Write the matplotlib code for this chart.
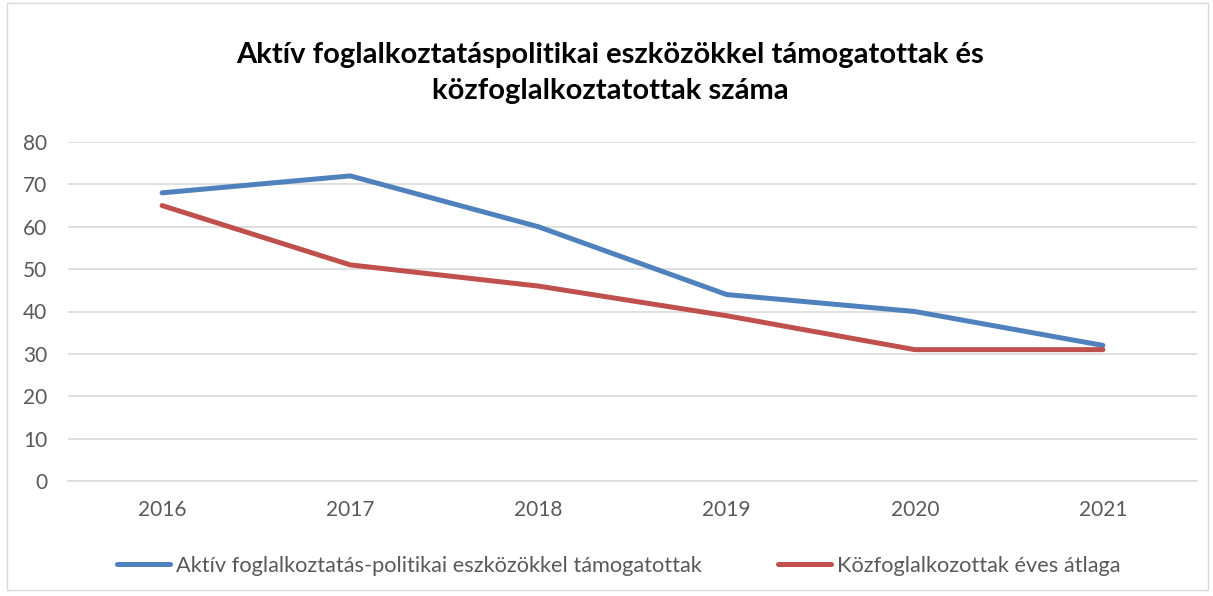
import matplotlib.pyplot as plt
import matplotlib.patches as patches

years = ['2016', '2017', '2018', '2019', '2020', '2021']
aktiv = [68, 72, 60, 44, 40, 32]
kozfogl = [65, 51, 46, 39, 31, 31]

title = 'Aktív foglalkoztatáspolitikai eszközökkel támogatottak és\nközfoglalkoztatottak száma'
label_aktiv = 'Aktív foglalkoztatás-politikai eszközökkel támogatottak'
label_kozfogl = 'Közfoglalkozottak éves átlaga'

plt.rcParams['font.family'] = ['Lato', 'DejaVu Sans']

fig = plt.figure(figsize=(12.13, 5.96), dpi=100)
ax = fig.add_axes([68 / 1213, 1 - 481 / 596, (1197 - 68) / 1213, (481 - 142) / 596])

x = list(range(len(years)))
ax.plot(x, aktiv, color='#4F81BD', lw=3.6, solid_capstyle='round', solid_joinstyle='round', label=label_aktiv)
ax.plot(x, kozfogl, color='#C0504D', lw=3.6, solid_capstyle='round', solid_joinstyle='round', label=label_kozfogl)

ax.set_xlim(-0.5, len(years) - 0.5)
ax.set_ylim(0, 80)
ax.set_yticks(range(0, 81, 10))
ax.set_xticks(x)
ax.set_xticklabels(years)
ax.yaxis.grid(True, color='#D9D9D9', lw=1.2)
ax.set_axisbelow(True)
for s in ['top', 'right', 'left']:
    ax.spines[s].set_visible(False)
ax.spines['bottom'].set_color('#D9D9D9')
ax.spines['bottom'].set_linewidth(1.2)
ax.tick_params(length=0, labelsize=15, colors='#595959')
ax.tick_params(axis='x', pad=14)
ax.tick_params(axis='y', pad=15)

fig.text(0.503, 1 - 73 / 596, title, ha='center', va='center', fontsize=21, fontweight='bold',
         color='black', linespacing=1.45)

fig.legend(loc='center', bbox_to_anchor=(619 / 1213, 1 - 566 / 596), ncol=2, frameon=False,
           fontsize=15.7, handlelength=2.4, columnspacing=3.5, handletextpad=0.3,
           labelcolor='#595959')

# chart border
fig.patches.append(patches.Rectangle((0.006, 0.01), 0.99, 0.985, transform=fig.transFigure,
                                     fill=False, edgecolor='#D9D9D9', lw=1.0))

fig.savefig('out.png', dpi=100)
